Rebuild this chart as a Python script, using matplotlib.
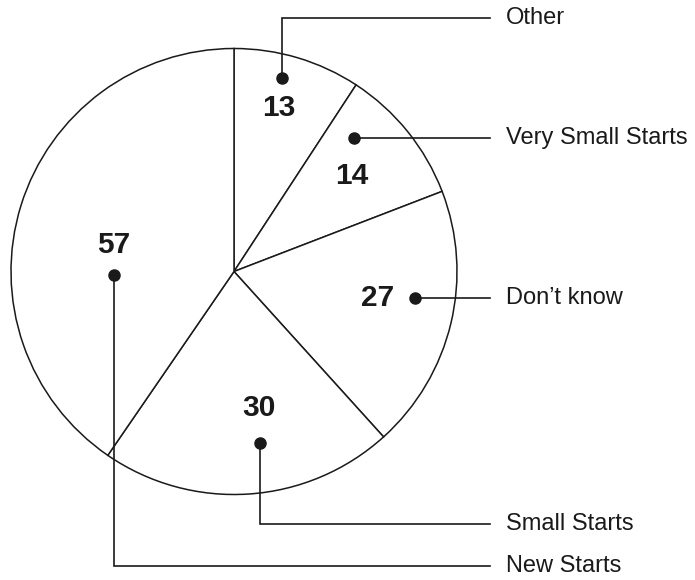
import matplotlib
matplotlib.use("Agg")
import matplotlib.pyplot as plt

plt.rcParams['font.family'] = ['Liberation Sans', 'DejaVu Sans']

# ---- data ----
categories = ['Other', 'Very Small Starts', 'Don\u2019t know', 'Small Starts', 'New Starts']
values = [13, 14, 27, 30, 57]

# ---- layout (pixel positions, y downward) ----
W, H = 695, 580
center = (234, 271.5)
radius = 223
num_pos = [(279, 108), (352, 176), (378, 298), (259, 408), (114, 245)]
dot_pos = [(282, 78), (354, 138), (415, 298), (260, 443), (114, 275)]
label_y = [18, 138, 298, 524, 566]
line_end_x = 490
text_x = 506

fig = plt.figure(figsize=(W / 100, H / 100), dpi=100)
ax = fig.add_axes([0, 0, 1, 1])

ax.pie(values, center=center, radius=radius, startangle=-90, counterclock=True,
       colors=['white'] * len(values),
       wedgeprops=dict(edgecolor='#1a1a1a', linewidth=1.1))

ax.set_xlim(0, W)
ax.set_ylim(H, 0)
ax.set_aspect('equal')
ax.axis('off')

for val, (nx, ny), (dx, dy), ly, cat in zip(values, num_pos, dot_pos, label_y, categories):
    ax.text(nx, ny, str(val), ha='center', va='center', fontsize=21.5,
            fontweight='bold', color='#1a1a1a')
    ax.plot([dx, dx, line_end_x], [dy, ly, ly], color='#1a1a1a', lw=1.2,
            solid_joinstyle='miter')
    ax.plot([dx], [dy], 'o', color='#1a1a1a', markersize=8)
    ax.text(text_x, ly, cat, ha='left', va='center', fontsize=17, color='#1a1a1a')

fig.savefig('out.png', dpi=100)
